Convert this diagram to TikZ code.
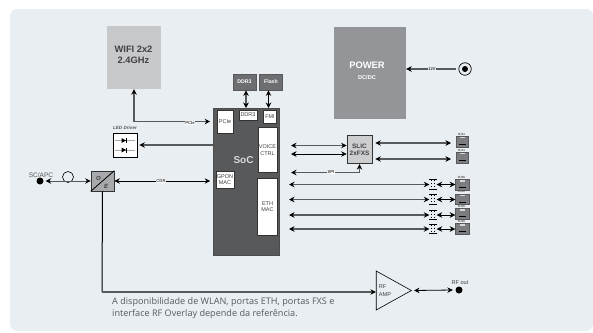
\documentclass[tikz,border=0pt]{standalone}
\usepackage{fontspec}
\setmainfont{Liberation Sans}
\newfontfamily\notefont{Open Sans}
\usetikzlibrary{arrows.meta,shapes.geometric}
\definecolor{panelc}{HTML}{E8EEF1}
\definecolor{wific}{HTML}{C7C8CA}
\definecolor{powerc}{HTML}{939598}
\definecolor{socc}{HTML}{58595B}
\definecolor{memc}{HTML}{6D6E71}
\definecolor{slicc}{HTML}{CDCED0}
\definecolor{oec}{HTML}{A7A9AC}
\definecolor{rjc}{HTML}{7B7D80}
\definecolor{textc}{HTML}{414042}
\definecolor{notec}{HTML}{58595B}
\tikzset{
 x=1pt,y=-1pt,
 block/.style={inner sep=0pt,align=center,font=\bfseries,text=textc},
 port/.style={draw=black!80,line width=.6pt,fill=white,inner sep=0pt,align=center,text=textc,font=\fontsize{5.5}{5.5}\selectfont},
 link/.style={draw=socc,line width=1.1pt,-{Stealth[length=5.5pt,width=5.5pt,color=black]}},
 biarrow/.style={draw=socc,line width=1.1pt,{Stealth[length=5.5pt,width=5.5pt,color=black]}-{Stealth[length=5.5pt,width=5.5pt,color=black]}},
 wirelabel/.style={fill=white,inner sep=.5pt,font=\fontsize{4.2}{4.5}\selectfont\bfseries,text=textc},
 tinylabel/.style={inner sep=0pt,font=\fontsize{3}{3}\selectfont\bfseries,text=socc},
 rjbox/.style={draw=socc,fill=rjc,line width=.5pt,inner sep=0pt},
 xfmr/.style={inner sep=0pt,minimum width=7pt,minimum height=9pt},
}
\newcommand{\jackglyph}[1]{%
  \fill[white!70!rjc] ([xshift=-2.5pt,yshift=-1pt]#1.north) rectangle ([xshift=2.5pt,yshift=-2.5pt]#1.north);
  \fill[black] ([xshift=-3.5pt,yshift=2pt]#1.south) rectangle ([xshift=3.5pt,yshift=2.8pt]#1.south);
}
\newcommand{\xfmrglyph}[1]{%
  \draw[black,line width=1.2pt,dotted,line cap=butt] ([xshift=-1.2pt]#1.north) -- ([xshift=-1.2pt]#1.south);
  \draw[black,line width=1.2pt,dotted,line cap=butt] ([xshift=1.2pt]#1.north) -- ([xshift=1.2pt]#1.south);
  \draw[black,line width=.7pt] (#1.north west) -- (#1.north east) (#1.south west) -- (#1.south east);
}
\begin{document}
\begin{tikzpicture}
\useasboundingbox (0,0) rectangle (593,332);
\fill[white] (0,0) rectangle (593,332);
\fill[panelc,rounded corners=7pt] (10,9) rectangle (593,331);

% blocks
\node[block,fill=wific,minimum width=54pt,minimum height=63pt] (wifi) at (134,57.5) {};
\node[inner sep=0pt,align=center,text=textc,font=\fontsize{9.3}{10.7}\selectfont\bfseries] (wifit) at (133.5,55) {WIFI 2x2\\2.4GHz};
\node[block,fill=powerc,minimum width=72pt,minimum height=92pt,text=white] (power) at (370,73) {};
\node[inner sep=0pt,text=white,font=\fontsize{9.4}{10}\selectfont\bfseries] (powert) at (367,65) {POWER};
\node[inner sep=0pt,text=white,font=\fontsize{5.6}{6}\selectfont\bfseries] (powers) at (367,78) {DC/DC};

\node[block,draw=socc,line width=.7pt,fill=memc,text=white,minimum width=23pt,minimum height=16pt,font=\fontsize{5.2}{6}\selectfont\bfseries] (ddr) at (244.5,82) {DDR3};
\node[block,draw=socc,line width=.7pt,fill=memc,text=white,minimum width=23pt,minimum height=16pt,font=\fontsize{5.2}{6}\selectfont\bfseries] (flash) at (271,82) {Flash};

\node[draw=black!70,line width=.6pt,fill=socc,minimum width=66pt,minimum height=147pt,inner sep=0pt] (soc) at (246.5,182) {};
\node[inner sep=0pt,text=white!85!black,font=\fontsize{10}{11}\selectfont\bfseries] (soct) at (243.5,160) {SoC};
\node[port,minimum width=16pt,minimum height=23pt] (pcie) at (225,121.5) {PCIe};
\node[port,minimum width=18pt,minimum height=10pt] (ddri) at (248,115) {DDR3};
\node[port,minimum width=13pt,minimum height=13pt] (fmi) at (270,116.5) {FMI};
\node[port,minimum width=19pt,minimum height=45pt,font=\fontsize{5.5}{7.2}\selectfont] (voice) at (267.5,150) {VOICE\\CTRL};
\node[port,minimum width=20pt,minimum height=57pt,font=\fontsize{5.5}{6.2}\selectfont] (eth) at (267.5,206.5) {ETH\\MAC};
\node[port,minimum width=18pt,minimum height=17pt] (gpon) at (225,179.5) {GPON\\MAC};

% LED driver
\node[draw=black,line width=.6pt,fill=white,minimum width=24pt,minimum height=24pt,inner sep=0pt] (led) at (125,145) {};
\node[inner sep=0pt,font=\fontsize{4.6}{5}\selectfont\bfseries\itshape,text=socc] (ledt) at (125,128) {LED Driver};
\foreach \yy in {140.5,150}{
  \draw[oec,line width=.6pt] (115,\yy) -- (135,\yy);
  \fill[black] (121.5,\yy-2.5) -- (126,\yy) -- (121.5,\yy+2.5) -- cycle;
  \draw[black,line width=.6pt] (126.3,\yy-2.5) -- (126.3,\yy+2.5);
}

% O/E
\node[draw=black!80,line width=.7pt,fill=oec,minimum width=23pt,minimum height=20pt,inner sep=0pt] (oe) at (102.5,181) {};
\draw[black,line width=.8pt] (oe.south west) -- (oe.north east);
\node[inner sep=0pt,font=\fontsize{6}{6}\selectfont\bfseries\itshape,text=textc] (oeo) at (98.5,178.5) {O};
\node[inner sep=0pt,font=\fontsize{6}{6}\selectfont\bfseries\itshape,text=textc] (oee) at (106,186) {E};

% SC/APC
\node[circle,fill=black,minimum size=7pt,inner sep=0pt] (sc) at (40,181) {};
\node[inner sep=0pt,font=\fontsize{6.5}{7}\selectfont,text=notec] (sclab) at (41,175) {SC/APC};
\node[circle,draw=black,line width=.6pt,fill=panelc,minimum size=11pt,inner sep=0pt] (loop) at (68,177) {};

% SLIC
\node[block,draw=black!80,line width=.7pt,fill=slicc,minimum width=25pt,minimum height=28.5pt,font=\fontsize{6.4}{6.6}\selectfont\bfseries] (slic) at (359.5,149.5) {SLIC\\2xFXS};

% amp
\node[draw=black,line width=.6pt,isosceles triangle,isosceles triangle apex angle=58,minimum height=35pt,minimum width=39pt,inner sep=0pt,anchor=apex] (amp) at (412,290.5) {};
\node[inner sep=0pt,align=left,font=\fontsize{5.6}{8}\selectfont,text=textc] (ampt) at (385,291) {RF\\AMP};
\node[circle,fill=black,minimum size=7pt,inner sep=0pt] (rfo) at (459,290) {};
\node[inner sep=0pt,font=\fontsize{5.6}{6}\selectfont,text=textc] (rfl) at (460,283) {RF out};

% jack
\node[circle,draw=black,line width=.7pt,fill=panelc,minimum size=12.5pt,inner sep=0pt] (dcj) at (465,69) {};
\node[circle,fill=black,minimum size=6pt,inner sep=0pt] (dcd) at (465,69) {};

% phone jacks
\node[rjbox,minimum width=11.5pt,minimum height=11pt] (rj1) at (462,141.5) {};
\node[rjbox,minimum width=11.5pt,minimum height=11pt] (rj2) at (462,157.5) {};
\foreach \n/\yy in {3/184.5,4/199,5/213.5,6/228.5}{
  \node[rjbox,minimum width=14pt,minimum height=10.5pt] (rj\n) at (462,\yy) {};
  \node[tinylabel] (rl\n) at (461.5,\yy-7.5) {RJ45};
}
\node[tinylabel] (rl1) at (461.5,134.5) {RJ11};
\node[tinylabel] (rl2) at (461.5,150.5) {RJ11};
\foreach \n in {1,...,6}{\jackglyph{rj\n}}

% transformers
\foreach \n/\yy in {3/184.5,4/199.5,5/215,6/229}{
  \node[xfmr] (tr\n) at (433,\yy) {};
  \xfmrglyph{tr\n}
  \coordinate (sl\n) at (289,\yy);
  \draw[biarrow] (sl\n) -- (tr\n.west);
  \draw[biarrow,draw=black,line width=.6pt] (tr\n.east) -- ([xshift=.5pt]rj\n.west |- tr\n.east);
}

% SoC connectors
\coordinate (pcic) at ([xshift=-3pt]soc.west |- pcie.west);
\draw[biarrow] (wifi.south) |- (pcic);
\draw[link] (soc.west |- led.east) -- ([xshift=2pt]led.east);
\draw[biarrow,draw=black,line width=.8pt] (oe.east) -- ([xshift=-3pt]soc.west |- oe.east);
\node[wirelabel] (pcil) at (190,123) {PCIe};
\node[wirelabel] (cdrl) at (161,181) {CDR};
\draw[biarrow,draw=socc,line width=.8pt] ([xshift=2pt]sc.east) -- (oe.west);
\draw[biarrow] (ddr.south -| 246,0) -- (246,108);
\draw[biarrow,draw=black] (flash.south -| 268.5,0) -- (268.5,108);

% SLIC connectors
\coordinate (vc1) at (291,145.5);
\coordinate (vc2) at (291,154);
\coordinate (spi) at (291,172.5);
\draw[biarrow] (vc1) -- (slic.west |- vc1);
\draw[biarrow,draw=black,line width=.8pt] (vc2) -- (slic.west |- vc2);
\draw[biarrow] (spi) -| (slic.south);
\node[wirelabel] (spil) at (331,172.5) {SPI};
\draw[biarrow] ([xshift=3pt]slic.east |- 0,143) -- (451,143);
\draw[biarrow] ([xshift=3pt]slic.east |- 0,159) -- (451,159);

% bottom
\coordinate (cb) at (102,292);
\draw[draw=black,line width=1pt] (oe.south) -- (cb);
\draw[link] (cb) -- (amp.west |- cb);
\draw[biarrow,draw=black,line width=.8pt] ([xshift=2pt]amp.apex) -- ([xshift=-2.5pt]rfo.west);
\draw[link] ([xshift=-2pt]dcj.west |- dcj.west) -- (power.east |- dcj.west);
\node[wirelabel,fill=panelc] (v12) at (432,69) {12V};

\node[inner sep=0pt,anchor=north west,align=left,font=\notefont\fontsize{9.1}{11.8}\selectfont,text=notec] (note) at (112,297.5) {A disponibilidade de WLAN, portas ETH, portas FXS e\\interface RF Overlay depende da referência.};
\end{tikzpicture}
\end{document}
